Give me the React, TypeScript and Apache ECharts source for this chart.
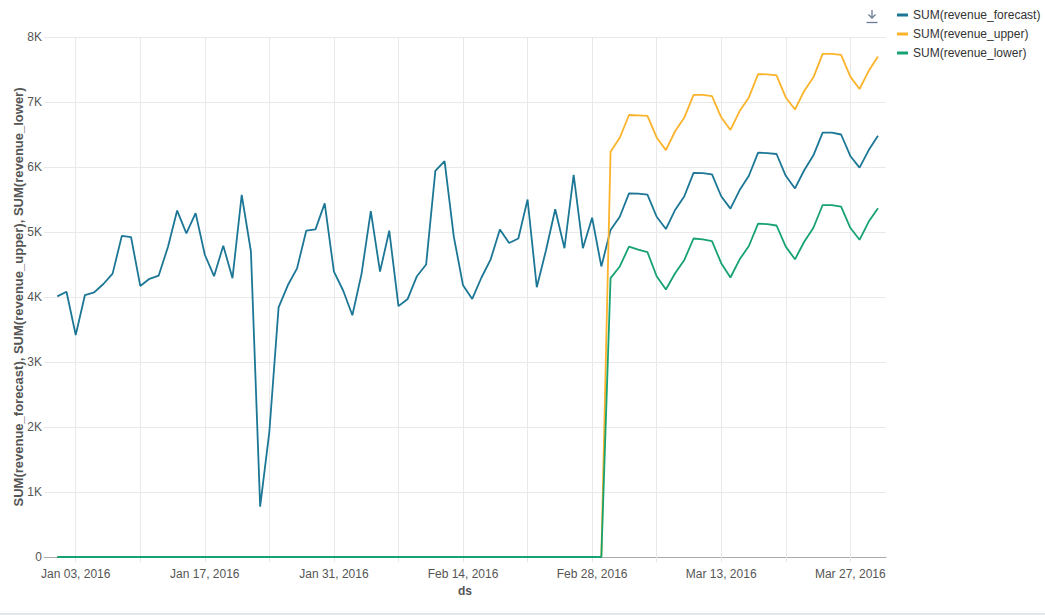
import React, { useEffect, useRef } from "react";
import * as echarts from "echarts";

const START_DATE = "2016-01-01";
const DAY_COUNT = 90;
const AXIS_MIN = "2015-12-30T13:26:00Z";
const AXIS_MAX = "2016-03-30T20:53:00Z";

const WEEK_TICKS = [
  "2016-01-03", "2016-01-10", "2016-01-17", "2016-01-24", "2016-01-31", "2016-02-07", "2016-02-14",
  "2016-02-21", "2016-02-28", "2016-03-06", "2016-03-13", "2016-03-20", "2016-03-27",
];
const LABEL_TICKS = ["2016-01-03", "2016-01-17", "2016-01-31", "2016-02-14", "2016-02-28", "2016-03-13", "2016-03-27"];
const MONTHS = ["Jan", "Feb", "Mar", "Apr", "May", "Jun", "Jul", "Aug", "Sep", "Oct", "Nov", "Dec"];

const SERIES_NAMES = ["SUM(revenue_forecast)", "SUM(revenue_upper)", "SUM(revenue_lower)"];
const COLORS = ["#1b7795", "#fbb32b", "#17a271"];

const forecast = [
  4010, 4080, 3415, 4030, 4070, 4200, 4360, 4940, 4920, 4170,
  4280, 4330, 4770, 5330, 4980, 5290, 4650, 4320, 4790, 4290,
  5570, 4700, 775, 1930, 3840, 4180, 4440, 5020, 5040, 5440,
  4390, 4100, 3720, 4360, 5320, 4390, 5020, 3860, 3970, 4320,
  4500, 5940, 6090, 4930, 4180, 3970, 4300, 4580, 5040, 4830,
  4900, 5500, 4150, 4720, 5350, 4750, 5880, 4750, 5220, 4470,
  5030, 5235, 5595, 5590, 5575, 5235, 5045, 5340, 5550, 5910,
  5905, 5885, 5550, 5360, 5645, 5865, 6220, 6215, 6200, 5865,
  5670, 5950, 6180, 6530, 6530, 6500, 6170, 5990, 6260, 6480,
];

const upper = [
  0, 0, 0, 0, 0, 0, 0, 0, 0, 0,
  0, 0, 0, 0, 0, 0, 0, 0, 0, 0,
  0, 0, 0, 0, 0, 0, 0, 0, 0, 0,
  0, 0, 0, 0, 0, 0, 0, 0, 0, 0,
  0, 0, 0, 0, 0, 0, 0, 0, 0, 0,
  0, 0, 0, 0, 0, 0, 0, 0, 0, 0,
  6235, 6450, 6800, 6795, 6785, 6455, 6260, 6550, 6760, 7110,
  7110, 7090, 6765, 6570, 6860, 7070, 7430, 7425, 7410, 7070,
  6885, 7170, 7380, 7740, 7740, 7725, 7390, 7200, 7480, 7700,
];

const lower = [
  0, 0, 0, 0, 0, 0, 0, 0, 0, 0,
  0, 0, 0, 0, 0, 0, 0, 0, 0, 0,
  0, 0, 0, 0, 0, 0, 0, 0, 0, 0,
  0, 0, 0, 0, 0, 0, 0, 0, 0, 0,
  0, 0, 0, 0, 0, 0, 0, 0, 0, 0,
  0, 0, 0, 0, 0, 0, 0, 0, 0, 0,
  4290, 4470, 4775, 4730, 4690, 4320, 4115, 4365, 4570, 4900,
  4885, 4860, 4520, 4300, 4580, 4785, 5130, 5120, 5100, 4775,
  4580, 4850, 5065, 5415, 5415, 5390, 5065, 4880, 5160, 5365,
];

const DAY_MS = 86400000;
const startTs = Date.parse(START_DATE + "T00:00:00Z");
const dates: number[] = [];
for (let i = 0; i < DAY_COUNT; i++) dates.push(startTs + i * DAY_MS);

const toTs = (s: string) => Date.parse(s.length === 10 ? s + "T00:00:00Z" : s);

const fmtDate = (v: number) => {
  const d = new Date(v);
  return `${MONTHS[d.getUTCMonth()]} ${String(d.getUTCDate()).padStart(2, "0")}, ${d.getUTCFullYear()}`;
};

const FONT = "'Liberation Sans', Arial, Helvetica, sans-serif";

export default function App() {
  const ref = useRef<HTMLDivElement>(null);
  useEffect(() => {
    if (!ref.current) return;
    const chart = echarts.init(ref.current, undefined, { renderer: "svg" });
    const seriesData = [forecast, upper, lower];
    chart.setOption({
      animation: false,
      textStyle: { fontFamily: FONT },
      color: COLORS,
      grid: { left: 44, right: 159, top: 37, bottom: 58, containLabel: false, outerBoundsMode: "none" },
      legend: {
        orient: "vertical",
        left: 897,
        top: 8,
        padding: 0,
        icon: "rect",
        itemWidth: 11,
        itemHeight: 3,
        itemGap: 5,
        textStyle: { fontSize: 12, color: "#333", lineHeight: 14, fontFamily: FONT },
        data: SERIES_NAMES,
      },
      xAxis: {
        type: "value",
        min: toTs(AXIS_MIN),
        max: toTs(AXIS_MAX),
        name: "ds",
        nameLocation: "middle",
        nameGap: 28,
        nameMoveOverlap: false,
        nameTextStyle: { fontWeight: "bold", fontSize: 12, color: "#555", fontFamily: FONT },
        axisLine: { show: true, lineStyle: { color: "#aaa", width: 1 } },
        axisTick: {
          show: true,
          customValues: WEEK_TICKS.map(toTs),
          length: 5,
          lineStyle: { color: "#e6e6e6" },
        },
        axisLabel: {
          customValues: LABEL_TICKS.map(toTs),
          formatter: (v: number) => fmtDate(v),
          color: "#555",
          fontSize: 12,
          margin: 11,
          fontFamily: FONT,
        },
        splitLine: { show: true, lineStyle: { color: "#e9e9e9", width: 1 } },
      },
      yAxis: {
        type: "value",
        min: 0,
        max: 8000,
        interval: 1000,
        name: SERIES_NAMES.join(", "),
        nameLocation: "middle",
        nameGap: 19,
        nameMoveOverlap: false,
        nameTextStyle: { fontWeight: "bold", fontSize: 13, color: "#555", fontFamily: FONT },
        axisLine: { show: false },
        axisTick: { show: false },
        axisLabel: {
          formatter: (v: number) => (v === 0 ? "0" : v / 1000 + "K"),
          color: "#555",
          fontSize: 12,
          margin: 2,
          fontFamily: FONT,
        },
        splitLine: { show: true, lineStyle: { color: "#e9e9e9", width: 1 } },
      },
      graphic: [
        {
          type: "group",
          silent: true,
          children: [
            { type: "line", shape: { x1: 872, y1: 10, x2: 872, y2: 18 }, style: { stroke: "#6b7a94", lineWidth: 1.3 } },
            { type: "polyline", shape: { points: [[868.5, 14.5], [872, 18], [875.5, 14.5]] }, style: { stroke: "#6b7a94", lineWidth: 1.3, fill: "none" } },
            { type: "line", shape: { x1: 866.5, y1: 22.5, x2: 877.5, y2: 22.5 }, style: { stroke: "#6b7a94", lineWidth: 1.3 } },
            { type: "rect", shape: { x: 0, y: 613, width: 1045, height: 2 }, style: { fill: "#e3e7ec" } },
          ],
        },
      ],
      series: SERIES_NAMES.map((name, k) => ({
        name,
        type: "line",
        showSymbol: false,
        symbol: "none",
        lineStyle: { width: 1.8, color: COLORS[k] },
        itemStyle: { color: COLORS[k] },
        data: dates.map((t, i) => [t, seriesData[k][i]]),
      })),
    });
    return () => chart.dispose();
  }, []);
  return (
    <div
      ref={ref}
      style={{ position: "fixed", left: 0, top: 0, width: 1045, height: 615, background: "#fff" }}
    />
  );
}
